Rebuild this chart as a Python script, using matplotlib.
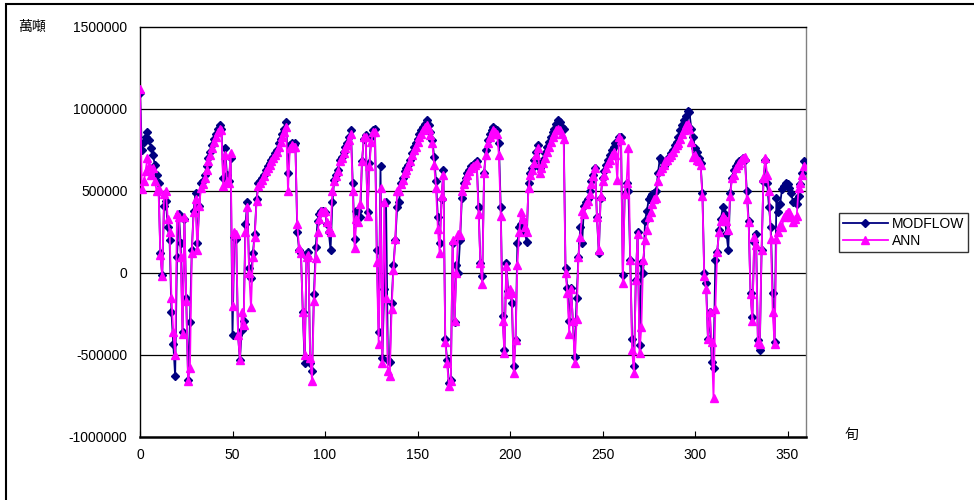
import matplotlib
matplotlib.use("Agg")
import matplotlib.pyplot as plt
from matplotlib.patches import Rectangle
from matplotlib.ticker import FuncFormatter

plt.rcParams['font.family'] = ['Liberation Sans', 'Noto Sans CJK TC']
plt.rcParams['axes.unicode_minus'] = False

# 旬 index
xs = list(range(360))

# values, in thousands (×1000 → 萬噸 axis)
modflow_k = [
    1100, 750, 800, 830, 860, 810, 760, 720, 660, 600, 550, 120, -10, 410, 440, 280, 200, -240, -430, -630,
    100, 360, 180, -360, 330, -150, -650, -300, 140, 380, 490, 180, 410, 550, 560, 600,
    650, 700, 740, 780, 820, 850, 880, 900, 880, 580, 760, 600, 560, 700, -380, 220, 210, -380, -530, -350,
    -290, 300, 430, 30, -30, 120, 240, 450, 550, 560, 580, 600, 630, 650, 670, 690,
    710, 730, 750, 790, 820, 850, 880, 920, 610, 780, 790, 780, 790, 250, 140, 120, -240, -550, 100, 130,
    -550, -600, -130, 160, 320, 360, 380, 380, 370, 300, 250, 140, 430, 570, 600, 630,
    690, 710, 740, 770, 790, 830, 870, 550, 210, 380, 380, 340, 680, 820, 840, 370, 670, 830, 870, 880,
    140, -360, 650, -520, -100, 430, -530, -540, -180, 50, 200, 400, 430, 550, 580, 620,
    640, 660, 690, 730, 770, 790, 820, 850, 870, 890, 910, 930, 900, 860, 810, 710, 560, 340, 180, 450,
    630, -400, -530, -670, -650, 180, -300, 50, 0, 200, 460, 550, 580, 610, 630, 650,
    660, 670, 680, 400, 60, -20, 610, 750, 810, 850, 870, 890, 880, 870, 790, 400, -260, -470, 60, -110,
    -120, -180, -570, -410, 180, 280, 300, 320, 250, 190, 550, 610, 640, 690, 740, 780,
    640, 670, 690, 730, 770, 800, 830, 860, 880, 910, 930, 920, 890, 880, 30, -90, -290, -90, -300, -510,
    -150, 100, 280, 180, 410, 430, 450, 500, 560, 600, 640, 340, 120, 460, 580, 620,
    660, 690, 720, 750, 770, 790, 790, 830, 830, -10, 480, 550, 500, 80, -400, -570, -40, 250, -440, 60,
    0, 320, 380, 450, 470, 480, 490, 500, 610, 700, 680, 650, 670, 690, 710, 730,
    750, 780, 800, 830, 870, 900, 930, 960, 990, 980, 880, 830, 760, 740, 700, 670, 490, 0, -60, -400,
    -240, -540, -580, 80, 130, 260, 330, 400, 360, 240, 140, 490, 580, 630, 650, 670,
    680, 690, 700, 690, 500, 320, -120, -270, 190, 240, -410, -470, 140, 560, 690, 550, 400, 280, -120, -420,
    460, 370, 420, 510, 530, 550, 540, 520, 490, 430, 440, 420, 470, 540, 610, 680,
]

ann_k = [
    1120, 510, 560, 620, 700, 650, 600, 640, 560, 500, 510, 110, -20, 480, 500, 330, 250, -150, -360, -500,
    360, 340, 100, -370, 340, -170, -660, -580, 120, 370, 450, 140, 410, 520, 540, 580,
    630, 680, 720, 760, 800, 830, 860, 880, 870, 530, 720, 560, 550, 730, -200, 250, 240, -380, -530, -240,
    -320, 250, 400, 0, -210, 100, 220, 440, 530, 550, 570, 590, 620, 640, 660, 680,
    700, 720, 740, 770, 800, 830, 860, 890, 500, 760, 780, 770, 770, 300, 150, 120, -240, -500, 100, 110,
    -520, -660, -170, 90, 250, 330, 380, 370, 380, 310, 270, 250, 500, 560, 590, 620,
    680, 700, 730, 760, 780, 810, 850, 500, 150, 330, 310, 420, 680, 830, 830, 350, 650, 800, 860, 860,
    70, -430, 520, -550, 430, -150, -600, -630, -220, 20, 210, 500, 500, 540, 570, 610,
    630, 650, 680, 720, 750, 770, 800, 830, 850, 870, 890, 900, 880, 840, 790, 660, 520, 270, 120, 470,
    600, -420, -550, -690, -660, 200, -290, 0, 240, 230, 500, 540, 570, 600, 620, 640,
    650, 660, 670, 360, 60, -70, 610, 720, 790, 830, 850, 870, 860, 850, 720, 350, -290, -490, 40, -130,
    -100, -120, -610, -410, 50, 250, 370, 330, 280, 250, 520, 600, 630, 670, 720, 760,
    610, 640, 670, 700, 740, 770, 800, 830, 850, 870, 880, 870, 850, 820, 0, -120, -370, -100, -290, -550,
    -280, 100, 220, 380, 360, 420, 440, 480, 540, 590, 640, 340, 140, 470, 560, 600,
    640, 670, 690, 720, 740, 720, 570, 830, 810, -60, 480, 550, 760, 80, -470, -610, -40, 240, -490, -330,
    80, 200, 260, 340, 370, 420, 450, 460, 560, 620, 640, 660, 680, 690, 710, 720,
    740, 760, 780, 790, 820, 850, 870, 900, 910, 880, 800, 710, 720, 690, 680, 660, 470, -20, -100, -400,
    -240, -420, -760, -220, 130, 250, 320, 350, 330, 320, 260, 470, 580, 600, 640, 660,
    670, 690, 700, 710, 450, 310, -130, -290, 220, 170, -420, -430, 140, 580, 700, 600, 500, 210, -240, -430,
    210, 250, 290, 280, 340, 360, 370, 370, 340, 310, 330, 350, 520, 550, 600, 650,
]

modflow = [v * 1000 for v in modflow_k]
ann = [v * 1000 for v in ann_k]

fig = plt.figure(figsize=(9.74, 5), dpi=100)
ax = fig.add_axes([140 / 974, 63 / 500, 666 / 974, 410 / 500])

ax.plot(xs, modflow, color='#000080', linewidth=1.3, marker='D', markersize=4.2,
        markerfacecolor='#000080', markeredgecolor='#000080', label='MODFLOW', zorder=3)
ax.plot(xs, ann, color='#FF00FF', linewidth=1.3, marker='^', markersize=5.5,
        markerfacecolor='#FF00FF', markeredgecolor='#FF00FF', label='ANN', zorder=4)

ax.set_xlim(0, 360)
ax.set_ylim(-1000000, 1500000)
ax.set_xticks([0, 50, 100, 150, 200, 250, 300, 350])
ax.set_yticks([-1000000, -500000, 0, 500000, 1000000, 1500000])
ax.yaxis.set_major_formatter(FuncFormatter(lambda v, p: '%d' % v))
ax.tick_params(axis='x', direction='in', length=4, labelsize=10, pad=8)
ax.tick_params(axis='y', length=0, labelsize=10, pad=9)

for y in [-500000, 0, 500000, 1000000]:
    ax.axhline(y, color='#000000', linewidth=0.9, zorder=1)

for s in ax.spines.values():
    s.set_color('#000000')
    s.set_linewidth(1.0)
ax.spines['bottom'].set_linewidth(1.8)
ax.spines['right'].set_color('#808080')

leg = fig.legend(loc='upper left', bbox_to_anchor=(839 / 974, 1 - 213 / 500),
                 frameon=True, fancybox=False, fontsize=10, handlelength=3.2,
                 borderpad=0.3, labelspacing=0.2, handletextpad=0.3, borderaxespad=0)
leg.get_frame().set_edgecolor('#000000')
leg.get_frame().set_linewidth(1.0)

fig.text(18 / 974, 1 - 27 / 500, '萬噸', fontsize=10, va='center', ha='left')
fig.text(845 / 974, 1 - 435 / 500, '旬', fontsize=10, va='center', ha='left')

# chart-area frame
fig.patches.append(Rectangle((6 / 974, -0.1), 1.2, 1.1 - 4 / 500, transform=fig.transFigure,
                             fill=False, edgecolor='#000000', linewidth=1.5))

fig.savefig('out.png', dpi=100)
